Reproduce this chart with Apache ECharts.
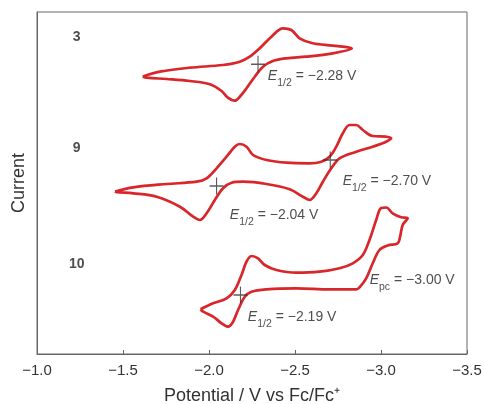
<!DOCTYPE html>
<html>
<head>
<meta charset="utf-8">
<script src="https://cdn.jsdelivr.net/npm/echarts@6/dist/echarts.min.js"></script>
<style>
html,body{margin:0;padding:0;background:#fff;}
#chart{width:484px;height:404px;}
</style>
</head>
<body>
<div id="chart"></div>
<script>
// Potential (V vs Fc/Fc+) and current (arbitrary units, curves vertically offset)
var cv3 = [
  [-1.615, 277.5], [-1.715, 282.3], [-1.889, 286.3], [-2.081, 289], [-2.179, 292.3],
  [-2.237, 297.3], [-2.295, 305.7], [-2.363, 317.3], [-2.430, 325.7], [-2.479, 324],
  [-2.527, 315.7], [-2.603, 310.7], [-2.719, 308.3], [-2.830, 305.5],
  [-2.719, 300.7], [-2.566, 297.3], [-2.450, 295.7], [-2.371, 293], [-2.314, 287.3],
  [-2.266, 277.3], [-2.218, 265.7], [-2.179, 257.3], [-2.150, 253.3], [-2.110, 256.3],
  [-2.073, 263], [-2.005, 269.7], [-1.889, 273], [-1.754, 275], [-1.638, 276.3], [-1.615, 277.5]
];
var cv9 = [
  [-1.454, 162.5], [-1.560, 166.7], [-1.754, 170], [-1.928, 172.3], [-1.986, 175.7],
  [-2.044, 185.7], [-2.102, 197.3], [-2.150, 207.3], [-2.179, 210], [-2.218, 207.3],
  [-2.256, 199], [-2.334, 194], [-2.450, 191.3], [-2.585, 190.7], [-2.653, 192.3],
  [-2.701, 197.3], [-2.740, 207.3], [-2.778, 220.7], [-2.817, 229], [-2.856, 229],
  [-2.894, 224], [-2.952, 218], [-3.030, 217.3], [-3.059, 216],
  [-3.030, 212.3], [-2.952, 207.3], [-2.856, 202.3], [-2.759, 195.7], [-2.711, 185.7],
  [-2.662, 172.3], [-2.624, 160.7], [-2.585, 154], [-2.546, 157.3], [-2.469, 164.7],
  [-2.334, 170], [-2.198, 172.3], [-2.131, 171.3], [-2.082, 165.7], [-2.034, 154],
  [-1.986, 140.7], [-1.947, 134], [-1.908, 137.3], [-1.831, 147.3], [-1.696, 157.3],
  [-1.560, 160.7], [-1.464, 161.8], [-1.454, 162.5]
];
var cv10 = [
  [-1.951, 44.7], [-2.024, 50.7], [-2.102, 55.7], [-2.150, 64], [-2.189, 79],
  [-2.218, 92.3], [-2.247, 98], [-2.285, 95.7], [-2.324, 89], [-2.392, 84],
  [-2.508, 81.3], [-2.643, 82.3], [-2.759, 85.7], [-2.836, 90.7], [-2.894, 99],
  [-2.933, 114], [-2.972, 134], [-3.001, 146], [-3.030, 146.5], [-3.068, 140.7],
  [-3.117, 136.7], [-3.155, 135.7],
  [-3.126, 129], [-3.111, 117.3], [-3.097, 110.7], [-3.039, 108.5], [-2.991, 104],
  [-2.952, 90.7], [-2.914, 75.7], [-2.875, 66.7], [-2.856, 64.7], [-2.701, 64.7],
  [-2.508, 65.7], [-2.334, 64.7], [-2.247, 62.3], [-2.208, 57.3], [-2.169, 44],
  [-2.140, 32.3], [-2.111, 27.3], [-2.073, 30.7], [-2.024, 37.3], [-1.966, 42.3], [-1.951, 44.7]
];
// half-wave potential markers
var halfWave = [[-2.285, 289.7], [-2.044, 168], [-2.705, 194], [-2.183, 59]];
// compound numbers
var compounds = [[-1.231, 317, '3'], [-1.231, 206, '9'], [-1.231, 90, '10']];
// potential annotations: [anchor V, anchor I, subscript, value text]
var potLabels = [
  [-2.342, 277, '1/2', ' = \u22122.28 V'],
  [-2.121, 138, '1/2', ' = \u22122.04 V'],
  [-2.777, 172, '1/2', ' = \u22122.70 V'],
  [-2.226, 36, '1/2', ' = \u22122.19 V'],
  [-2.934, 73, 'pc', ' = \u22123.00 V']
];
var xTicks = { min: -3.5, max: -1.0, step: 0.5 };

var red = '#d8262b';
var FONT = '"Liberation Sans", Arial, sans-serif';
function cvSeries(data) {
  return {
    type: 'line', data: data, smooth: 0.35, symbol: 'none',
    lineStyle: { color: red, width: 2.7 }, z: 2, silent: true
  };
}
var chart = echarts.init(document.getElementById('chart'));
chart.setOption({
  animation: false,
  grid: { left: 37, right: 17, top: 12, bottom: 50, show: true, borderColor: '#666', borderWidth: 1,
    containLabel: false, outerBoundsMode: 'none' },
  xAxis: {
    type: 'value', inverse: true, min: xTicks.min, max: xTicks.max, interval: xTicks.step,
    name: 'Potential / V vs Fc/Fc\u207A', nameLocation: 'middle', nameGap: 33,
    nameTextStyle: { fontSize: 18, color: '#333', fontFamily: FONT },
    axisLine: { lineStyle: { color: '#666' } },
    axisTick: { inside: true, length: 4, lineStyle: { color: '#666' } },
    axisLabel: { fontSize: 15, color: '#333', margin: 9, fontFamily: FONT,
      formatter: function (v) { return v.toFixed(1).replace('-', '\u2212'); } },
    splitLine: { show: false }
  },
  yAxis: {
    type: 'value', min: 0, max: 342,
    name: 'Current', nameLocation: 'middle', nameGap: 9,
    nameTextStyle: { fontSize: 18, color: '#333', fontFamily: FONT },
    axisLine: { show: true, lineStyle: { color: '#666' } },
    axisTick: { show: false }, axisLabel: { show: false }, splitLine: { show: false }
  },
  series: [
    cvSeries(cv3), cvSeries(cv9), cvSeries(cv10),
    {
      type: 'scatter', data: halfWave, z: 5, silent: true,
      symbol: 'path://M9.2,0h1.6v20h-1.6zM0,9.2h20v1.6h-20z', symbolSize: [14, 17],
      itemStyle: { color: '#333' }
    },
    {
      type: 'scatter', silent: true, symbolSize: 0, z: 6,
      data: compounds.map(function (c) { return { value: [c[0], c[1]], name: c[2] }; }),
      label: { show: true, position: 'inside', formatter: '{b}', fontSize: 14, fontWeight: 'bold',
        color: '#222', fontFamily: FONT }
    },
    {
      type: 'scatter', silent: true, symbolSize: 0, z: 6,
      data: potLabels.map(function (p) { return { value: [p[0], p[1]], sub: p[2], txt: p[3] }; }),
      label: {
        show: true, position: 'right', distance: 0,
        formatter: function (params) {
          return '{e|E}{s|' + params.data.sub + '}{n|' + params.data.txt + '}';
        },
        rich: {
          e: { fontSize: 14, fontStyle: 'italic', color: '#222', fontFamily: FONT, lineHeight: 16, verticalAlign: 'top' },
          s: { fontSize: 10.5, color: '#222', fontFamily: FONT, lineHeight: 10, padding: [9, 0, 0, 0], verticalAlign: 'top' },
          n: { fontSize: 14, color: '#222', fontFamily: FONT, lineHeight: 16, verticalAlign: 'top' }
        }
      }
    }
  ]
});
</script>
</body>
</html>
